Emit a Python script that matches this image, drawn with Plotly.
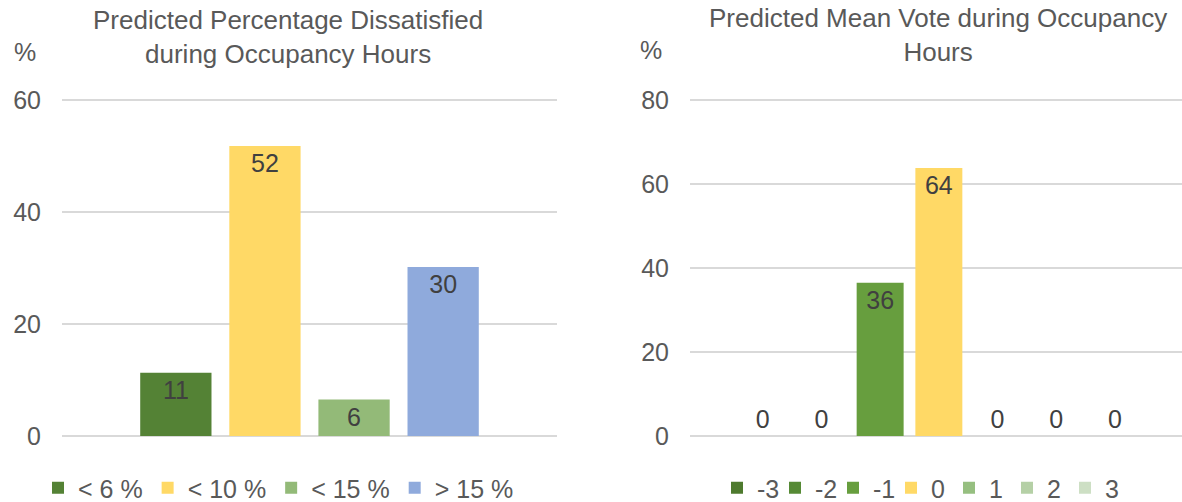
import plotly.graph_objects as go

# Left chart: Predicted Percentage Dissatisfied
ppd_labels = ["< 6 %", "< 10 %", "< 15 %", "> 15 %"]
ppd_values = [11.3, 51.8, 6.5, 30.2]
ppd_text = ["11", "52", "6", "30"]
ppd_colors = ["#548235", "#FFD966", "#93BA78", "#8FAADC"]

# Right chart: Predicted Mean Vote
pmv_labels = ["-3", "-2", "-1", "0", "1", "2", "3"]
pmv_values = [0, 0, 36.5, 63.8, 0, 0, 0]
pmv_text = ["0", "0", "36", "64", "0", "0", "0"]
pmv_colors = ["#4E7A2E", "#568A35", "#679E3E", "#FFD966", "#96BF80", "#B5D0A6", "#CDDFC4"]

FONT = "Liberation Sans, Arial, sans-serif"
GRAY = "#595959"
LBL = "#404040"

fig = go.Figure()

for name, v, t, c in zip(ppd_labels, ppd_values, ppd_text, ppd_colors):
    fig.add_trace(go.Bar(
        x=["PPD"], y=[v], name=name, marker_color=c, marker_line_width=0,
        text=[t], textposition="inside" if v > 0 else "outside",
        insidetextanchor="end", textangle=0,
        textfont=dict(size=25, color=LBL, family=FONT),
        insidetextfont=dict(size=25, color=LBL, family=FONT),
        xaxis="x", yaxis="y", legend="legend", cliponaxis=False,
        hoverinfo="skip",
    ))

for name, v, t, c in zip(pmv_labels, pmv_values, pmv_text, pmv_colors):
    fig.add_trace(go.Bar(
        x=["PMV"], y=[v], name=name, marker_color=c, marker_line_width=0,
        text=[t], textposition="inside" if v > 0 else "outside",
        insidetextanchor="end", textangle=0,
        textfont=dict(size=25, color=LBL, family=FONT),
        insidetextfont=dict(size=25, color=LBL, family=FONT),
        outsidetextfont=dict(size=25, color=LBL, family=FONT),
        xaxis="x2", yaxis="y2", legend="legend2", cliponaxis=False,
        hoverinfo="skip",
    ))

H = 502.0
W = 1182.0
# extend 3px beyond gridline extremes so that end gridlines are drawn
ytop = (H - 97) / H
ybot = (H - 439) / H
pad1 = 60 / 336 * 3
pad2 = 80 / 337 * 3

fig.update_layout(
    width=1182, height=502,
    margin=dict(l=0, r=0, t=0, b=0, autoexpand=False),
    paper_bgcolor="white", plot_bgcolor="white",
    font=dict(family=FONT, color=GRAY, size=25),
    barmode="group",
    showlegend=True,
    xaxis=dict(domain=[62 / W, 557 / W], range=[-0.5, 0.5], showticklabels=False,
               showgrid=False, zeroline=False, showline=False, ticks=""),
    yaxis=dict(domain=[ybot, ytop], range=[-pad1, 60 + pad1], tickvals=[0, 20, 40, 60],
               showgrid=True, gridcolor="#D9D9D9", gridwidth=1.5, zeroline=False,
               showline=False, ticks="", tickfont=dict(size=25, color=GRAY),
               ticklabelstandoff=20),
    xaxis2=dict(domain=[690 / W, 1.0], range=[-0.436, 0.426], showticklabels=False,
                showgrid=False, zeroline=False, showline=False, ticks="", anchor="y2"),
    yaxis2=dict(domain=[ybot, ytop], range=[-pad2, 80 + pad2], tickvals=[0, 20, 40, 60, 80],
                showgrid=True, gridcolor="#D9D9D9", gridwidth=1.5, zeroline=False,
                showline=False, ticks="", tickfont=dict(size=25, color=GRAY), anchor="x2",
                ticklabelstandoff=20),
    legend=dict(orientation="h", x=38 / W, y=(H - 488) / H, yanchor="middle", xanchor="left",
                font=dict(size=25, color=GRAY), itemwidth=30,
                bgcolor="rgba(0,0,0,0)", traceorder="normal"),
    legend2=dict(orientation="h", x=717 / W, y=(H - 488) / H, yanchor="middle", xanchor="left",
                 font=dict(size=25, color=GRAY), itemwidth=30, entrywidth=13,
                 entrywidthmode="pixels",
                 bgcolor="rgba(0,0,0,0)", traceorder="normal"),
    bargap=0.28, bargroupgap=0.2,
)

annotations = [
    dict(text="Predicted Percentage Dissatisfied<br>during Occupancy Hours", x=288 / W, y=(H - 37) / H,
         xref="paper", yref="paper", showarrow=False, xanchor="center", yanchor="middle",
         font=dict(size=26, color=GRAY)),
    dict(text="Predicted Mean Vote during Occupancy<br>Hours", x=938 / W, y=(H - 35) / H,
         xref="paper", yref="paper", showarrow=False, xanchor="center", yanchor="middle",
         font=dict(size=26, color=GRAY)),
    dict(text="%", x=25 / W, y=(H - 52) / H, xref="paper", yref="paper", showarrow=False,
         xanchor="center", yanchor="middle", font=dict(size=25, color=GRAY)),
    dict(text="%", x=651 / W, y=(H - 50) / H, xref="paper", yref="paper", showarrow=False,
         xanchor="center", yanchor="middle", font=dict(size=25, color=GRAY)),
]
fig.update_layout(annotations=annotations)

fig.write_html("out.html")
